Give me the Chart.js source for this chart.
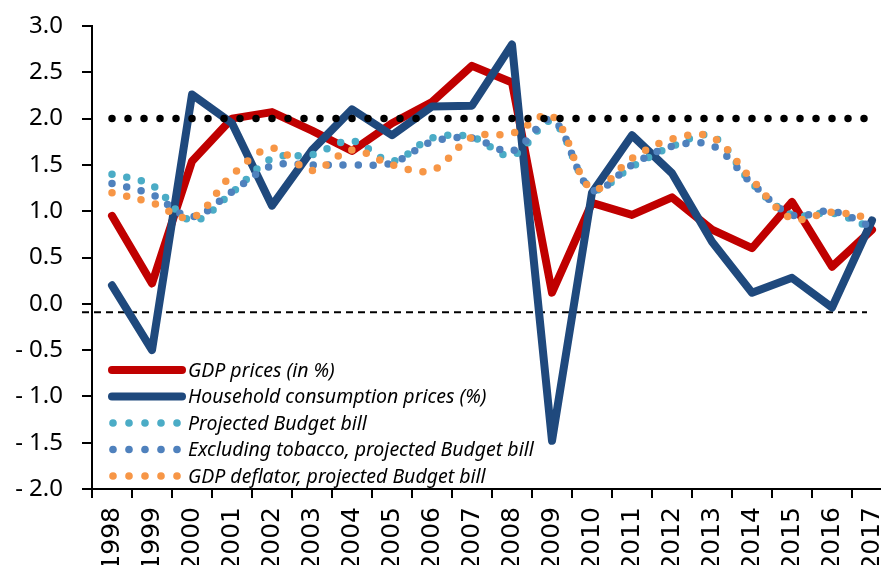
<!DOCTYPE html>
<html>
<head>
<meta charset="utf-8">
<script src="https://cdn.jsdelivr.net/npm/chart.js@4/dist/chart.umd.min.js"></script>
<style>
  html, body { margin: 0; padding: 0; background: #fff; overflow: hidden; }
  #frame { width: 881px; height: 565px; overflow: hidden; position: relative; }
  #wrap { width: 892px; height: 565px; position: absolute; left: 0; top: 0; }
</style>
</head>
<body>
<div id="frame"><div id="wrap"><canvas id="chart"></canvas></div></div>
<script>
// ─── Data ────────────────────────────────────────────────────────────────────

const years = ['1998', '1999', '2000', '2001', '2002', '2003', '2004', '2005', '2006', '2007',
               '2008', '2009', '2010', '2011', '2012', '2013', '2014', '2015', '2016', '2017'];

const gdpPrices       = [0.95, 0.22, 1.54, 2.00, 2.07, 1.87, 1.65, 1.95, 2.18, 2.57,
                         2.39, 0.12, 1.09, 0.96, 1.15, 0.80, 0.60, 1.10, 0.40, 0.80];
const householdPrices = [0.20, -0.50, 2.26, 1.95, 1.06, 1.66, 2.10, 1.82, 2.13, 2.14,
                         2.80, -1.48, 1.20, 1.82, 1.41, 0.67, 0.12, 0.28, -0.04, 0.90];
const projectedBill   = [1.40, 1.28, 0.90, 1.20, 1.57, 1.61, 1.76, 1.54, 1.79, 1.80,
                         1.60, 1.97, 1.24, 1.48, 1.70, 1.81, 1.30, 0.96, 0.98, 0.82];
const exTobaccoBill   = [1.30, 1.18, 0.94, 1.21, 1.49, 1.50, 1.50, 1.52, 1.75, 1.79,
                         1.65, 1.99, 1.23, 1.50, 1.70, 1.71, 1.30, 0.96, 1.00, 0.83];
const gdpDeflatorBill = [1.20, 1.09, 0.93, 1.39, 1.68, 1.44, 1.66, 1.50, 1.44, 1.80,
                         1.84, 2.03, 1.24, 1.57, 1.78, 1.80, 1.34, 0.92, 0.99, 0.92];
const targetLine      = [2.0, 2.0, 2.0, 2.0, 2.0, 2.0, 2.0, 2.0, 2.0, 2.0,
                         2.0, 2.0, 2.0, 2.0, 2.0, 2.0, 2.0, 2.0, 2.0, 2.0];
const dashedLevel = -0.09;

// ─── Colors ──────────────────────────────────────────────────────────────────

const RED    = '#c00000';
const NAVY   = '#1f497d';
const TEAL   = '#4bacc6';
const BLUE   = '#4f81bd';
const ORANGE = '#f79646';

const LEGEND = [
  { label: 'GDP prices (in %)',                         color: RED,    dotted: false },
  { label: 'Household consumption prices (%)',          color: NAVY,   dotted: false },
  { label: 'Projected Budget bill',                     color: TEAL,   dotted: true },
  { label: 'Excluding tobacco, projected Budget bill',  color: BLUE,   dotted: true },
  { label: 'GDP deflator, projected Budget bill',       color: ORANGE, dotted: true },
];

function solid(label, data, color, order) {
  return {
    label, data, order,
    borderColor: color, borderWidth: 8,
    borderCapStyle: 'round', borderJoinStyle: 'round',
    pointRadius: 0, tension: 0, fill: false,
  };
}

function dotted(label, data, color, order, gap, width, tension) {
  return {
    label, data, order,
    borderColor: color, borderWidth: width,
    borderDash: [0, gap], borderCapStyle: 'round',
    pointRadius: 0, tension, fill: false,
  };
}

// ─── Plugins: dashed reference + legend inside the plot ──────────────────────

const extras = {
  id: 'extras',
  beforeDatasetsDraw(chart) {
    const { ctx, chartArea, scales } = chart;
    const y = scales.y.getPixelForValue(dashedLevel);
    ctx.save();
    ctx.strokeStyle = '#000';
    ctx.lineWidth = 2;
    ctx.setLineDash([7, 5]);
    ctx.beginPath();
    ctx.moveTo(chartArea.left - 10, y);
    ctx.lineTo(scales.x.getPixelForValue(19) - 5, y);
    ctx.stroke();
    ctx.restore();
  },
  afterDatasetsDraw(chart) {
    const { ctx, chartArea } = chart;
    const x0 = chartArea.left + 20;
    ctx.save();
    LEGEND.forEach((item, i) => {
      const y = 370 + i * 26.5;
      ctx.fillStyle = item.color;
      ctx.strokeStyle = item.color;
      if (item.dotted) {
        for (let k = 0; k < 5; k++) {
          ctx.beginPath();
          ctx.arc(x0 + 1 + k * 16, y, 3.8, 0, Math.PI * 2);
          ctx.fill();
        }
      } else {
        ctx.lineWidth = 8;
        ctx.lineCap = 'round';
        ctx.beginPath();
        ctx.moveTo(x0, y);
        ctx.lineTo(x0 + 70, y);
        ctx.stroke();
      }
      ctx.fillStyle = '#000';
      ctx.font = 'italic 19.5px "Noto Sans"';
      ctx.textBaseline = 'middle';
      ctx.fillText(item.label, x0 + 76, y + 1);
    });
    ctx.restore();
  },
};

// ─── Chart ───────────────────────────────────────────────────────────────────

new Chart(document.getElementById('chart'), {
  type: 'line',
  data: {
    labels: years,
    datasets: [
      solid('GDP prices (in %)', gdpPrices, RED, 6),
      solid('Household consumption prices (%)', householdPrices, NAVY, 5),
      dotted('Projected Budget bill', projectedBill, TEAL, 4, 15, 7.5, 0.35),
      dotted('Excluding tobacco, projected Budget bill', exTobaccoBill, BLUE, 3, 15, 7.5, 0.35),
      dotted('GDP deflator, projected Budget bill', gdpDeflatorBill, ORANGE, 2, 15, 7.5, 0.35),
      dotted('2% target', targetLine, '#000', 1, 16, 7.5, 0),
    ],
  },
  options: {
    responsive: true,
    maintainAspectRatio: false,
    animation: false,
    layout: { padding: { top: 26, left: 0, right: 0, bottom: 0 } },
    plugins: {
      legend: { display: false },
      tooltip: { enabled: false },
    },
    scales: {
      x: {
        type: 'category',
        offset: true,
        afterFit: (s) => { s.height = 76; s.paddingLeft = 0; s.paddingRight = 0; },
        grid: {
          offset: true, drawOnChartArea: false, drawTicks: true,
          tickLength: 9, color: '#000', lineWidth: 2,
        },
        border: { display: true, color: '#000', width: 2 },
        ticks: {
          autoSkip: false, minRotation: 90, maxRotation: 90, padding: 9,
          color: '#000', font: { family: 'DejaVu Sans', size: 25 },
        },
      },
      y: {
        min: -2, max: 3,
        afterFit: (s) => { s.width = 92; s.paddingTop = 0; s.paddingBottom = 0; },
        grid: {
          drawOnChartArea: false, drawTicks: true,
          tickLength: 10, color: '#000', lineWidth: 2,
        },
        border: { display: true, color: '#000', width: 2 },
        ticks: {
          stepSize: 0.5, padding: 19, color: '#000',
          font: { family: 'Noto Sans', size: 24 },
          callback: (v) => v < 0 ? '- ' + Math.abs(v).toFixed(1) : v.toFixed(1),
        },
      },
    },
  },
  plugins: [extras],
});
</script>
</body>
</html>
